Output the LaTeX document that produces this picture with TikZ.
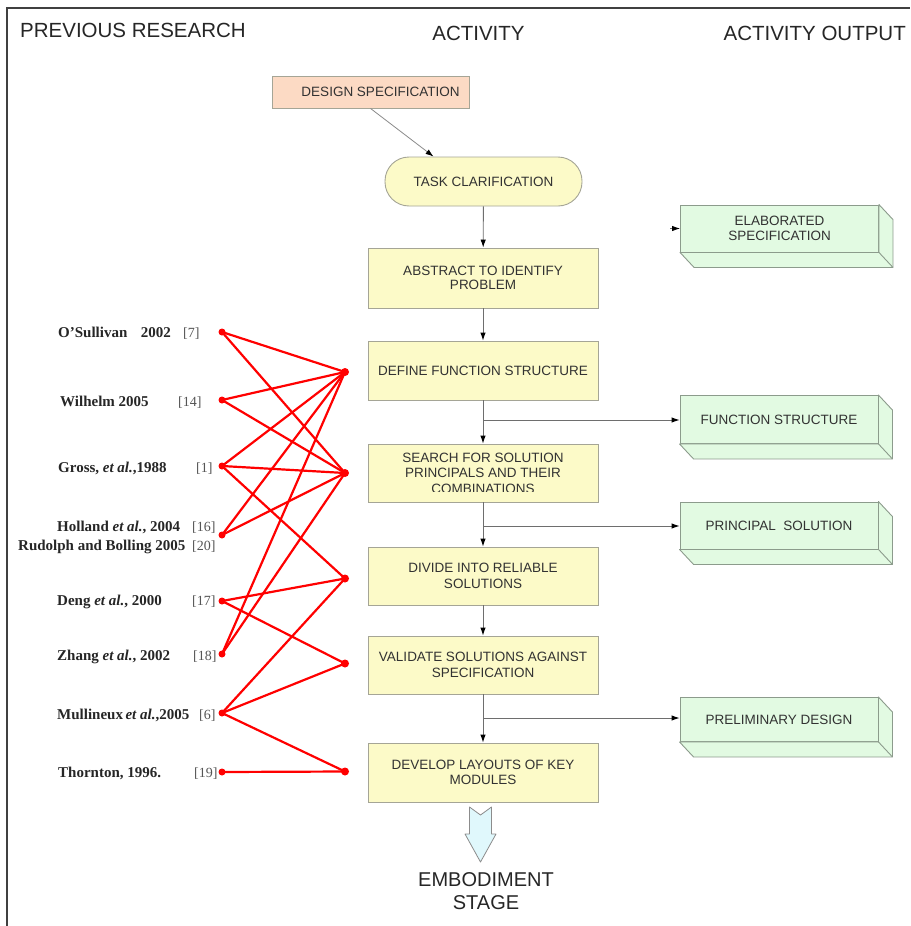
\documentclass[tikz,border=0pt]{standalone}
\usepackage{fontspec}
\setmainfont{Liberation Serif}
\newfontfamily\sansfam{Liberation Sans}
\usetikzlibrary{arrows.meta,calc}

\definecolor{pale}{RGB}{252,250,200}
\definecolor{peach}{RGB}{252,218,196}
\definecolor{mint}{RGB}{226,250,226}
\definecolor{ice}{RGB}{224,248,252}
\definecolor{edge}{RGB}{165,165,150}
\definecolor{mintedge}{RGB}{140,155,140}
\definecolor{ink}{RGB}{50,50,50}
\definecolor{wire}{RGB}{110,110,110}
\definecolor{refgray}{RGB}{85,85,85}
\definecolor{linkred}{RGB}{255,0,0}

% side and bottom faces of an extruded output box
\newcommand\slabsides[1]{%
  \filldraw[fill=mint,draw=mintedge,line width=0.9pt,line join=round]
    (#1.north east) -- ($(#1.north east)+(14,15)$) -- ($(#1.south east)+(14,15)$)
    -- ($(#1.south west)+(14,15)$) -- (#1.south west) -- (#1.south east) -- cycle;
  \draw[mintedge,line width=0.9pt] (#1.south east) -- ($(#1.south east)+(14,15)$);
}

\begin{document}
\begin{tikzpicture}[x=1pt,y=-1pt,
  heading/.style={font=\sansfam\fontsize{20.5}{23}\selectfont,text=black!85,inner sep=0pt},
  stepbox/.style={draw=edge,fill=pale,line width=0.9pt,minimum width=230pt,inner sep=0pt,
    align=center,text=ink,font=\sansfam\fontsize{13.5}{15.5}\selectfont},
  boxtext/.style={inner sep=0pt,align=center,text=ink,font=\sansfam\fontsize{13.5}{15.5}\selectfont},
  outbox/.style={draw=mintedge,fill=mint,line width=0.9pt,minimum width=198pt,inner sep=0pt,
    align=center,text=ink,font=\sansfam\fontsize{13.5}{15.5}\selectfont},
  conn/.style={draw=wire,line width=0.9pt,-{Latex[length=8pt,width=5.5pt,color=black]}},
  cite/.style={anchor=base west,inner sep=0pt,font=\bfseries\fontsize{15}{17}\selectfont,text=black!85},
  refno/.style={anchor=base west,inner sep=0pt,font=\fontsize{14}{16}\selectfont,text=refgray},
  ldot/.style={circle,fill=linkred,inner sep=0pt,minimum size=7pt},
  rdot/.style={circle,fill=linkred,inner sep=0pt,minimum size=8pt},
  link/.style={draw=linkred,line width=2.2pt}]

\useasboundingbox (0,0) rectangle (910,926);
\fill[white] (0,0) rectangle (910,926);

% frame
\draw[black!75,line width=1.2pt] (7,926) -- (7,8) -- (910,8);

% column headings
\node[heading,anchor=base west] (hprev) at (20,37.5) {PREVIOUS RESEARCH};
\node[heading,anchor=base] (hact) at (478.5,40.5) {ACTIVITY};
\node[heading,anchor=base east] (hout) at (906,40.5) {ACTIVITY OUTPUT};

% activity column
\node[draw=edge,fill=peach,line width=0.9pt,minimum width=197pt,minimum height=32pt,inner sep=0pt,
  text=ink,font=\sansfam\fontsize{13.5}{15.5}\selectfont] (design) at (370.5,92)
  {\hspace*{20pt}DESIGN SPECIFICATION};
\node[draw=edge,fill=pale,line width=0.9pt,rounded corners=24pt,minimum width=197pt,minimum height=49pt,
  inner sep=0pt,text=ink,font=\sansfam\fontsize{13.5}{15.5}\selectfont] (task) at (483.5,181.5)
  {TASK CLARIFICATION};
\node[stepbox,minimum height=60pt] (abstract) at (483,278) {ABSTRACT TO IDENTIFY\\[-1pt]PROBLEM};
\node[stepbox,minimum height=59pt] (define) at (483,370.5) {DEFINE FUNCTION STRUCTURE};
\node[stepbox,minimum height=58pt] (search) at (483,473) {};
\begin{scope}
  \clip (368,444) rectangle (598,491.5);
  \node[boxtext] (searchtxt) at (483,473) {SEARCH FOR SOLUTION\\PRINCIPALS AND THEIR\\COMBINATIONS};
\end{scope}
\node[stepbox,minimum height=58pt] (divide) at (483,576) {DIVIDE INTO RELIABLE\\[1pt]SOLUTIONS};
\node[stepbox,minimum height=58pt] (validate) at (483,665) {VALIDATE SOLUTIONS AGAINST\\SPECIFICATION};
\node[stepbox,minimum height=59pt] (develop) at (483,772.5) {DEVELOP LAYOUTS OF KEY\\MODULES};

\draw[draw=wire!80,line width=0.8pt,-{Latex[length=8pt,width=5.5pt,color=black]}]
  (design.south) -- ([xshift=-50pt]task.north);
\draw[conn] (task) -- (abstract);
\draw[conn] (abstract) -- (define);
\draw[conn] (define) -- (search);
\draw[conn] (search) -- (divide);
\draw[conn] (divide) -- (validate);
\draw[conn] (validate) -- (develop);

% output column
\node[outbox,minimum height=47pt] (elab) at (779.5,228.5) {ELABORATED\\SPECIFICATION};
\slabsides{elab}
\node[outbox,minimum height=48pt] (fstruct) at (779,419.5) {FUNCTION STRUCTURE};
\slabsides{fstruct}
\node[outbox,minimum height=47pt] (principal) at (779,525.5) {PRINCIPAL\ \ SOLUTION};
\slabsides{principal}
\node[outbox,minimum height=44pt] (prelim) at (779,719.5) {PRELIMINARY DESIGN};
\slabsides{prelim}

\coordinate (elabin) at (670,228.5);
\coordinate (br1) at (483,420);
\coordinate (br2) at (483,526);
\coordinate (br3) at (483,718);
\draw[conn] (elabin) -- (elab.west);
\draw[conn] (br1) -- (br1 -| fstruct.west);
\draw[conn] (br2) -- (br2 -| principal.west);
\draw[conn] (br3) -- (br3 -| prelim.west);

% hand-over to the embodiment stage
\filldraw[fill=ice,draw=black!45,line width=0.8pt,line join=round]
  (469.5,807) -- (480.5,815) -- (491.5,807) -- (491.5,834) -- (496,834)
  -- (480.5,862) -- (465,834) -- (469.5,834) -- cycle;
\node[heading,align=center,font=\sansfam\fontsize{20}{23}\selectfont] (embody) at (486,891)
  {EMBODIMENT\\STAGE};

% previous research
\node[cite] (c1) at (58,337) {O’Sullivan\hspace{0.9em}2002};
\node[refno] (f1) at (183,337) {[7]};
\node[cite] (c2) at (60,406) {Wilhelm 2005};
\node[refno] (f2) at (178,406) {[14]};
\node[cite] (c3) at (58,472) {Gross, \textit{et al.},1988};
\node[refno] (f3) at (196,472) {[1]};
\node[cite] (c4) at (57,531) {Holland \textit{et al.}, 2004};
\node[refno] (f4) at (192,531) {[16]};
\node[cite] (c5) at (18,550) {Rudolph and Bolling 2005};
\node[refno] (f5) at (192,550) {[20]};
\node[cite] (c6) at (57,605) {Deng \textit{et al.}, 2000};
\node[refno] (f6) at (192,605) {[17]};
\node[cite] (c7) at (57,660) {Zhang \textit{et al.}, 2002};
\node[refno] (f7) at (193,660) {[18]};
\node[cite] (c8) at (57,719) {Mullineux\,\textit{et al.},2005};
\node[refno] (f8) at (199,719) {[6]};
\node[cite] (c9) at (58,777) {Thornton, 1996.};
\node[refno] (f9) at (194,777) {[19]};

\node[ldot] (l1) at (222,332) {};
\node[ldot] (l2) at (222,400) {};
\node[ldot] (l3) at (222,466) {};
\node[ldot] (l4) at (222,535) {};
\node[ldot] (l5) at (222,601) {};
\node[ldot] (l6) at (222,654) {};
\node[ldot] (l7) at (222,713) {};
\node[ldot] (l8) at (222,772) {};

\node[rdot] (r1) at (345,372) {};
\node[rdot] (r2) at (345,473) {};
\node[rdot] (r3) at (345,578.5) {};
\node[rdot] (r4) at (345,663.5) {};
\node[rdot] (r5) at (345,771.5) {};

\draw[link] (l1.center) -- (r1.center);
\draw[link] (l1.center) -- (r2.center);
\draw[link] (l2.center) -- (r1.center);
\draw[link] (l2.center) -- (r2.center);
\draw[link] (l3.center) -- (r1.center);
\draw[link] (l3.center) -- (r2.center);
\draw[link] (l3.center) -- (r3.center);
\draw[link] (l4.center) -- (r1.center);
\draw[link] (l4.center) -- (r2.center);
\draw[link] (l5.center) -- (r3.center);
\draw[link] (l5.center) -- (r4.center);
\draw[link] (l6.center) -- (r1.center);
\draw[link] (l6.center) -- (r2.center);
\draw[link] (l7.center) -- (r3.center);
\draw[link] (l7.center) -- (r4.center);
\draw[link] (l7.center) -- (r5.center);
\draw[link] (l8.center) -- (r5.center);
\end{tikzpicture}
\end{document}
